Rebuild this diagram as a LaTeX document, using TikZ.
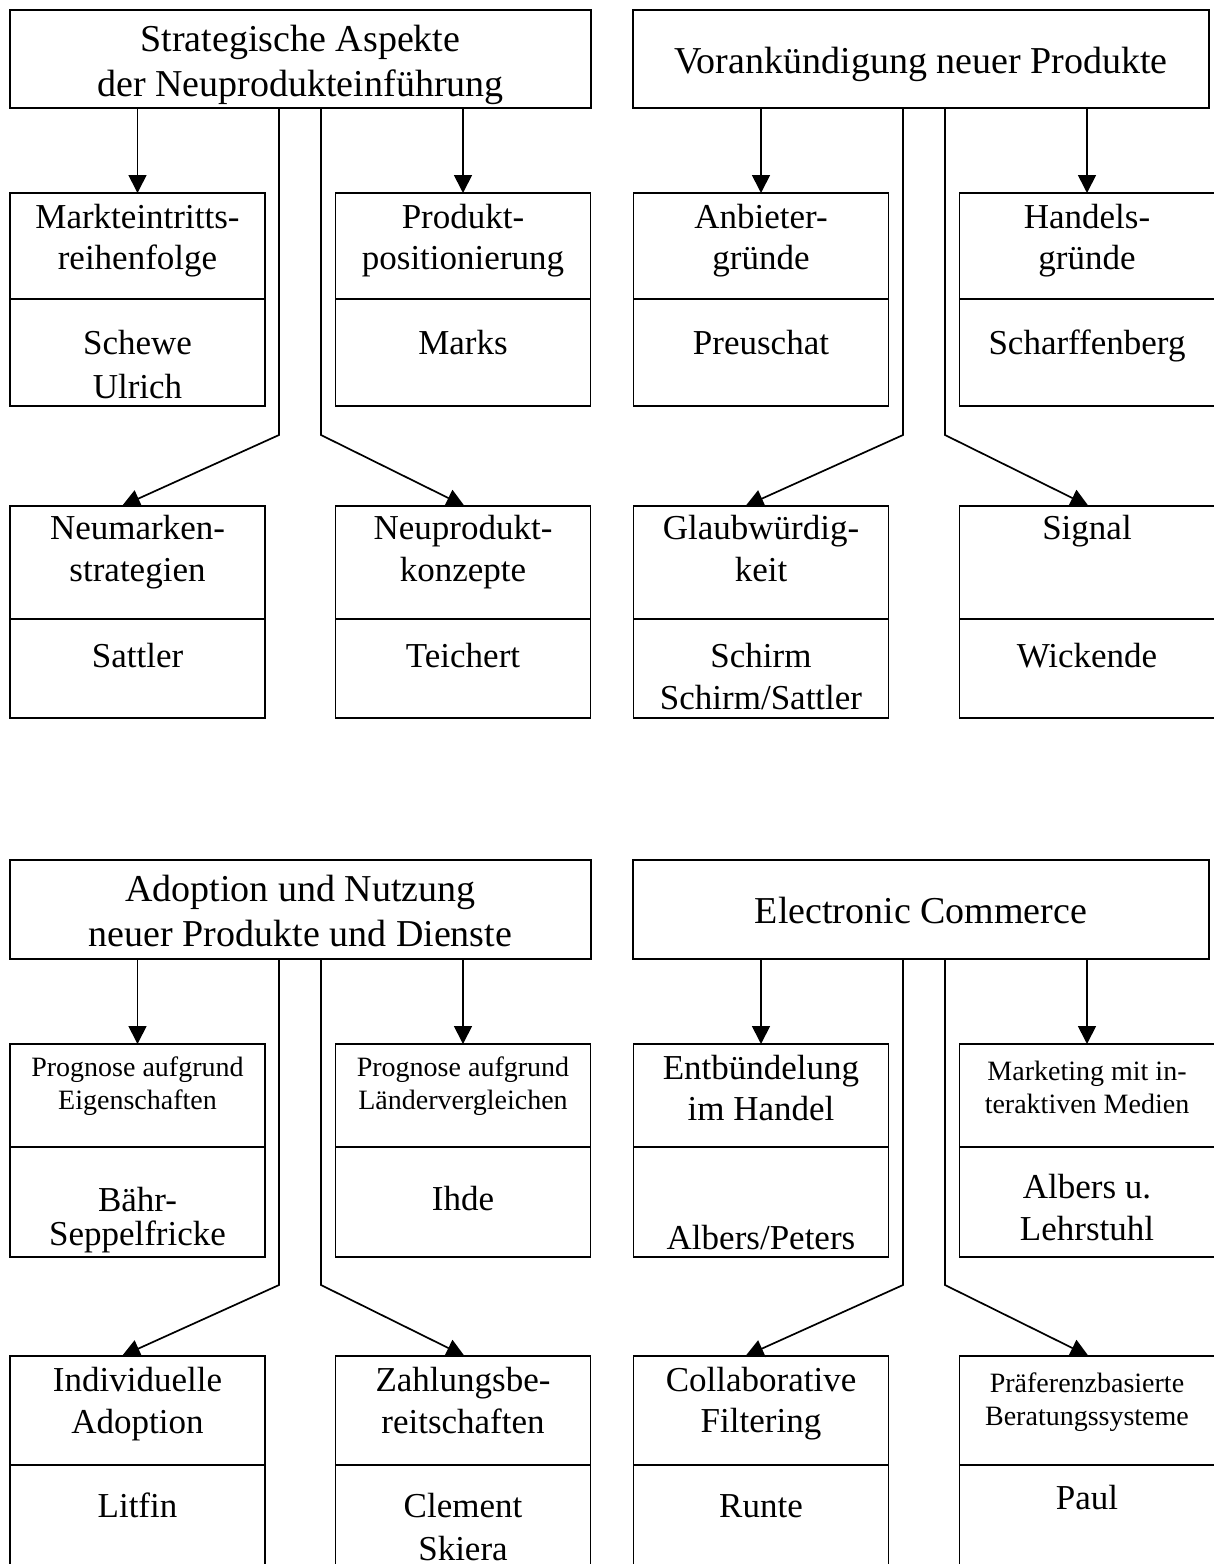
\documentclass[tikz,border=0pt]{standalone}
\usepackage{fontspec}
\setmainfont{Liberation Serif}
\usetikzlibrary{arrows.meta}
\begin{document}
\begin{tikzpicture}[x=1pt,y=-1pt,line width=1.7pt,
  box/.style={draw,rectangle,inner sep=0pt,outer sep=0pt,minimum width=255pt},
  hdr/.style={draw,rectangle,inner sep=0pt,outer sep=0pt},
  big/.style={anchor=base,align=center,inner sep=0pt,font=\fontsize{38pt}{45pt}\selectfont},
  mid/.style={anchor=base,align=center,inner sep=0pt,font=\fontsize{35pt}{#1pt}\selectfont},
  mid/.default=41,
  sml/.style={anchor=base,align=center,inner sep=0pt,font=\fontsize{28pt}{33pt}\selectfont},
  arr/.style={-{Triangle[length=18pt,width=18pt]}}]
\useasboundingbox (0,0) rectangle (1214,1564);
\clip (0,0) rectangle (1214,1564);

% ---------- headers ----------
\node[hdr,minimum width=581pt,minimum height=98pt] (h1) at (300.5,59) {};
\node[hdr,minimum width=576pt,minimum height=98pt] (h2) at (921,59) {};
\node[hdr,minimum width=581pt,minimum height=99pt] (h3) at (300.5,909.5) {};
\node[hdr,minimum width=576pt,minimum height=99pt] (h4) at (921,909.5) {};

% ---------- top half, upper boxes ----------
\node[box,minimum height=106pt] (a1t) at (137.5,246) {};
\node[box,minimum height=107pt] (a1b) at (137.5,352.5) {};
\node[box,minimum height=106pt] (b1t) at (463,246) {};
\node[box,minimum height=107pt] (b1b) at (463,352.5) {};
\node[box,minimum height=106pt] (a2t) at (761,246) {};
\node[box,minimum height=107pt] (a2b) at (761,352.5) {};
\node[box,minimum height=106pt] (b2t) at (1087,246) {};
\node[box,minimum height=107pt] (b2b) at (1087,352.5) {};

% ---------- top half, lower boxes ----------
\node[box,minimum height=113pt] (c1t) at (137.5,562.5) {};
\node[box,minimum height=99pt] (c1b) at (137.5,668.5) {};
\node[box,minimum height=113pt] (d1t) at (463,562.5) {};
\node[box,minimum height=99pt] (d1b) at (463,668.5) {};
\node[box,minimum height=113pt] (c2t) at (761,562.5) {};
\node[box,minimum height=99pt] (c2b) at (761,668.5) {};
\node[box,minimum height=113pt] (d2t) at (1087,562.5) {};
\node[box,minimum height=99pt] (d2b) at (1087,668.5) {};

% ---------- bottom half, upper boxes ----------
\node[box,minimum height=103pt] (a3t) at (137.5,1095.5) {};
\node[box,minimum height=110pt] (a3b) at (137.5,1202) {};
\node[box,minimum height=103pt] (b3t) at (463,1095.5) {};
\node[box,minimum height=110pt] (b3b) at (463,1202) {};
\node[box,minimum height=103pt] (a4t) at (761,1095.5) {};
\node[box,minimum height=110pt] (a4b) at (761,1202) {};
\node[box,minimum height=103pt] (b4t) at (1087,1095.5) {};
\node[box,minimum height=110pt] (b4b) at (1087,1202) {};

% ---------- bottom half, lower boxes ----------
\node[box,minimum height=109pt] (c3t) at (137.5,1410.5) {};
\node[box,minimum height=115pt] (c3b) at (137.5,1522.5) {};
\node[box,minimum height=109pt] (d3t) at (463,1410.5) {};
\node[box,minimum height=115pt] (d3b) at (463,1522.5) {};
\node[box,minimum height=109pt] (c4t) at (761,1410.5) {};
\node[box,minimum height=115pt] (c4b) at (761,1522.5) {};
\node[box,minimum height=109pt] (d4t) at (1087,1410.5) {};
\node[box,minimum height=115pt] (d4b) at (1087,1522.5) {};

% ---------- bend points ----------
\coordinate (k1l) at (279,435);  \coordinate (k1r) at (321,435);
\coordinate (k2l) at (903,435);  \coordinate (k2r) at (945,435);
\coordinate (k3l) at (279,1285); \coordinate (k3r) at (321,1285);
\coordinate (k4l) at (903,1285); \coordinate (k4r) at (945,1285);

% ---------- connectors ----------
\draw[arr] (h1.south -| a1t.north) -- (a1t.north);
\draw[arr] (h1.south -| b1t.north) -- (b1t.north);
\draw[arr] (h1.south -| k1l) -- (k1l) -- ([xshift=-15.5pt]c1t.north);
\draw[arr] (h1.south -| k1r) -- (k1r) -- ([xshift=1.5pt]d1t.north);

\draw[arr] (h2.south -| a2t.north) -- (a2t.north);
\draw[arr] (h2.south -| b2t.north) -- (b2t.north);
\draw[arr] (h2.south -| k2l) -- (k2l) -- ([xshift=-15.5pt]c2t.north);
\draw[arr] (h2.south -| k2r) -- (k2r) -- ([xshift=1.5pt]d2t.north);

\draw[arr] (h3.south -| a3t.north) -- (a3t.north);
\draw[arr] (h3.south -| b3t.north) -- (b3t.north);
\draw[arr] (h3.south -| k3l) -- (k3l) -- ([xshift=-15.5pt]c3t.north);
\draw[arr] (h3.south -| k3r) -- (k3r) -- ([xshift=1.5pt]d3t.north);

\draw[arr] (h4.south -| a4t.north) -- (a4t.north);
\draw[arr] (h4.south -| b4t.north) -- (b4t.north);
\draw[arr] (h4.south -| k4l) -- (k4l) -- ([xshift=-15.5pt]c4t.north);
\draw[arr] (h4.south -| k4r) -- (k4r) -- ([xshift=1.5pt]d4t.north);

% ---------- texts (anchor = baseline of the last line) ----------
% quadrant 1
\node[big] (h1x) at (300.5,96) {Strategische Aspekte\\der Neuprodukteinführung};
\node[mid] (a1tx) at (137.5,269) {Markteintritts-\\reihenfolge};
\node[mid=44] (a1bx) at (137.5,398) {Schewe\\Ulrich};
\node[mid] (b1tx) at (463,269) {Produkt-\\positionierung};
\node[mid] (b1bx) at (463,354) {Marks};
\node[mid=42] (c1tx) at (137.5,581) {Neumarken-\\strategien};
\node[mid] (c1bx) at (137.5,667) {Sattler};
\node[mid=42] (d1tx) at (463,581) {Neuprodukt-\\konzepte};
\node[mid] (d1bx) at (463,667) {Teichert};

% quadrant 2
\node[big] (h2x) at (921,73) {Vorankündigung neuer Produkte};
\node[mid] (a2tx) at (761,269) {Anbieter-\\gründe};
\node[mid] (a2bx) at (761,354) {Preuschat};
\node[mid] (b2tx) at (1087,269) {Handels-\\gründe};
\node[mid] (b2bx) at (1087,354) {Scharffenberg};
\node[mid=42] (c2tx) at (761,581) {Glaubwürdig-\\keit};
\node[mid=42] (c2bx) at (761,709) {Schirm\\Schirm/Sattler};
\node[mid] (d2tx) at (1087,539) {Signal};
\node[mid] (d2bx) at (1087,667) {Wickende};

% quadrant 3
\node[big] (h3x) at (300.5,946) {Adoption und Nutzung\\neuer Produkte und Dienste};
\node[sml] (a3tx) at (137.5,1109) {Prognose aufgrund\\Eigenschaften};
\node[mid=34] (a3bx) at (137.5,1245) {Bähr-\\Seppelfricke};
\node[sml] (b3tx) at (463,1109) {Prognose aufgrund\\Ländervergleichen};
\node[mid] (b3bx) at (463,1210) {Ihde};
\node[mid=42] (c3tx) at (137.5,1433) {Individuelle\\Adoption};
\node[mid] (c3bx) at (137.5,1517) {Litfin};
\node[mid=42] (d3tx) at (463,1433) {Zahlungsbe-\\reitschaften};
\node[mid=43] (d3bx) at (463,1560) {Clement\\Skiera};

% quadrant 4
\node[big] (h4x) at (921,923) {Electronic Commerce};
\node[mid] (a4tx) at (761,1120) {Entbündelung\\im Handel};
\node[mid] (a4bx) at (761,1249) {Albers/Peters};
\node[sml] (b4tx) at (1087,1113) {Marketing mit in-\\teraktiven Medien};
\node[mid=42] (b4bx) at (1087,1240) {Albers u.\\Lehrstuhl};
\node[mid] (c4tx) at (761,1432) {Collaborative\\Filtering};
\node[mid] (c4bx) at (761,1517) {Runte};
\node[sml] (d4tx) at (1087,1425) {Präferenzbasierte\\Beratungssysteme};
\node[mid] (d4bx) at (1087,1509) {Paul};
\end{tikzpicture}
\end{document}
